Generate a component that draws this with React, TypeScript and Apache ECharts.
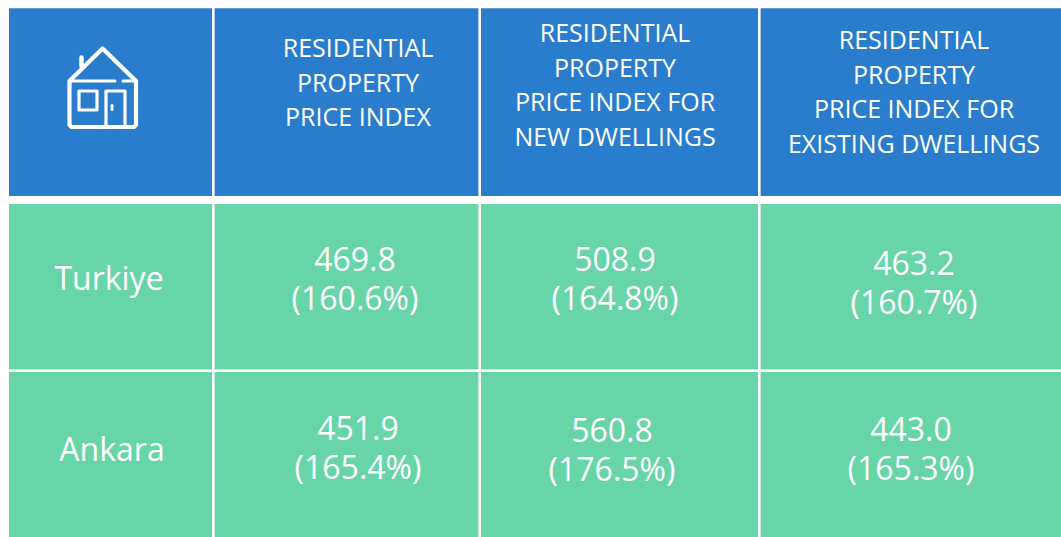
import React, { useEffect, useRef } from "react";
import * as echarts from "echarts";

const headers = [
  "RESIDENTIAL\nPROPERTY\nPRICE INDEX",
  "RESIDENTIAL\nPROPERTY\nPRICE INDEX FOR\nNEW DWELLINGS",
  "RESIDENTIAL\nPROPERTY\nPRICE INDEX FOR\nEXISTING DWELLINGS",
];
const regions = ["Turkiye", "Ankara"];
const turkiyeValues = ["469.8\n(160.6%)", "508.9\n(164.8%)", "463.2\n(160.7%)"];
const ankaraValues = ["451.9\n(165.4%)", "560.8\n(176.5%)", "443.0\n(165.3%)"];

const BLUE = "#2a7ccd";
const GREEN = "#67d5a8";
const FONT = "'Open Sans', 'Noto Sans', sans-serif";

const colX = [[9, 212], [214.6, 478.4], [481, 758], [760.6, 1061]];
const rowY = [[204, 369.6], [372, 537]];
const headerY = [8.3, 196];
const headerTextCx = [358, 615, 914];
const headerTextCy = [81.5, 84, 91];
const valueCx = [[355, 615, 914], [358, 612, 911]];
const valueCy = [[277.5, 277.5, 281.5], [447, 448.5, 447.5]];
const regionCx = [109, 112];
const regionCy = [277, 448.5];

function cell(x: number[], y: number[], fill: string) {
  return { type: "rect", shape: { x: x[0], y: y[0], width: x[1] - x[0], height: y[1] - y[0] }, style: { fill } };
}
function label(text: string, x: number, y: number, size: number, lh: number) {
  return {
    type: "text", x, y, z: 5,
    style: { text, fill: "#ffffff", font: `${size}px ${FONT}`, lineHeight: lh, align: "center", verticalAlign: "middle" },
  };
}
function stroke(points: number[][], width = 4.2) {
  return {
    type: "polyline", z: 5,
    shape: { points },
    style: { stroke: "#ffffff", lineWidth: width, fill: "none", lineCap: "round", lineJoin: "round" },
  };
}

export default function App() {
  const ref = useRef<HTMLDivElement>(null);
  useEffect(() => {
    document.body.style.margin = "0";
    const chart = echarts.init(ref.current!, undefined, { renderer: "svg" });
    const elements: any[] = [];
    colX.forEach((x) => elements.push(cell(x, headerY, BLUE)));
    colX.forEach((x) => rowY.forEach((y) => elements.push(cell(x, y, GREEN))));
    headers.forEach((h, i) => elements.push(label(h, headerTextCx[i], headerTextCy[i], 25, 34.5)));
    regions.forEach((r, i) => elements.push(label(r, regionCx[i], regionCy[i], 32, 40)));
    [turkiyeValues, ankaraValues].forEach((vals, r) =>
      vals.forEach((v, c) => elements.push(label(v, valueCx[r][c], valueCy[r][c], 32, 39)))
    );
    // house icon
    elements.push(
      stroke([[69.5, 125], [69.5, 81], [102.5, 48.5], [136, 81], [136, 125], [134, 127], [71.5, 127], [69.5, 125]]),
      stroke([[81.5, 66], [81.5, 57.5]], 4.5),
      stroke([[72, 81], [115, 81]], 3),
      stroke([[123, 81], [134, 81]], 3),
      stroke([[79, 91], [97, 91], [97, 110], [79, 110], [79, 91]], 3.2),
      stroke([[106, 126], [106, 91], [125, 91], [125, 126]], 3.2),
      stroke([[112, 105.5], [112, 109.5]], 3)
    );
    chart.setOption({ animation: false, backgroundColor: "#ffffff", graphic: { elements } });
    return () => chart.dispose();
  }, []);
  return <div ref={ref} style={{ width: 1061, height: 537 }} />;
}
